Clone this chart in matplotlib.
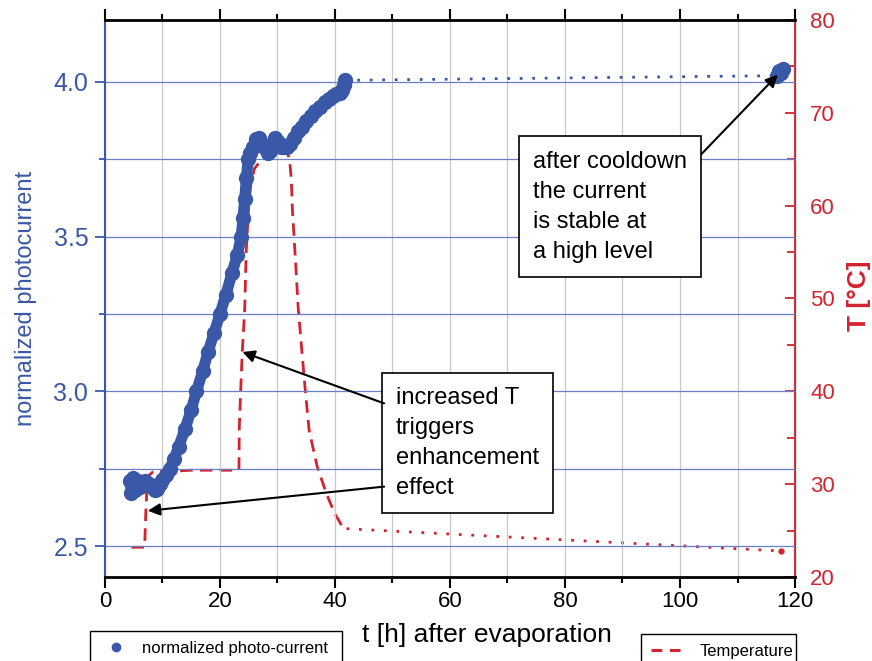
import numpy as np
import matplotlib.pyplot as plt
from matplotlib.ticker import MultipleLocator
from matplotlib.lines import Line2D

plt.rcParams['font.family'] = ['Liberation Sans', 'DejaVu Sans']

blue = '#3a58a8'
red = '#d2232f'

# normalized photo-current, measured part (t in h)
t_pc = [4.4, 4.6, 4.9, 5.2, 5.5, 5.8, 6.1, 6.5, 6.9, 7.3, 7.7, 8.2, 8.7, 9.0,
        9.5, 10.0, 10.6, 11.3, 12.0, 12.8, 13.9, 15.0, 15.9, 17.0, 17.9, 19.0,
        20.0, 21.0, 22.1, 23.0, 23.7, 24.0, 24.3, 24.6, 24.9, 25.3, 25.8, 26.3,
        26.8, 27.3, 27.8, 28.3, 28.7, 29.1, 29.6, 30.1, 30.6, 31.1, 31.6, 32.2,
        32.8, 33.5, 34.2, 35.0, 35.8, 36.6, 37.4, 38.2, 39.0, 39.6, 40.2, 40.8,
        41.2, 41.5, 41.7]
pc = [2.71, 2.67, 2.72, 2.68, 2.70, 2.71, 2.69, 2.70, 2.71, 2.70, 2.70, 2.69,
      2.68, 2.685, 2.70, 2.715, 2.73, 2.75, 2.78, 2.82, 2.877, 2.94, 3.0, 3.065,
      3.126, 3.19, 3.25, 3.31, 3.383, 3.44, 3.5, 3.56, 3.62, 3.69, 3.75, 3.77,
      3.79, 3.815, 3.82, 3.80, 3.785, 3.77, 3.775, 3.80, 3.82, 3.805, 3.79, 3.79,
      3.79, 3.80, 3.82, 3.84, 3.855, 3.875, 3.89, 3.905, 3.92, 3.935, 3.945,
      3.955, 3.96, 3.965, 3.975, 3.99, 4.005]
# no data between ~42 h and ~117 h
t_pc_gap = [41.7, 117.0]
pc_gap = [4.005, 4.02]
t_pc_end = [116.8, 117.2, 117.6, 117.9]
pc_end = [4.02, 4.035, 4.03, 4.04]

# temperature
t_T = [4.6, 6.9, 7.1, 7.4, 8.3, 10, 12, 15, 18, 21, 23.3, 23.35, 23.85, 24.3,
       24.55, 25.0, 25.4, 26.0, 26.9, 28, 30, 31.5, 32.1, 32.4, 32.6, 33.3,
       33.6, 34.7, 35.5, 36.9, 38.5, 39.9, 41.3, 42.0]
T = [23.2, 23.2, 27, 30.8, 31.3, 31.4, 31.4, 31.5, 31.5, 31.5, 31.5, 36, 44,
     48.8, 55, 60, 62.5, 64, 64.7, 65.3, 65.8, 66, 65, 62.8, 59.5, 52.3, 49,
     41, 35.8, 31.9, 29, 26.9, 25.4, 25.2]
t_T_gap = [42.0, 117.6]
T_gap = [25.2, 22.8]

fig = plt.figure(figsize=(8.72, 6.61), dpi=100)
ax = fig.add_axes([0.1204, 0.1271, 0.7913, 0.8427])
ax2 = ax.twinx()
ax.set_zorder(ax2.get_zorder() + 1)
ax.patch.set_visible(False)

ax2.plot(t_T, T, color=red, lw=2.0, dashes=(4.5, 2.6))
ax2.plot(t_T_gap, T_gap, color=red, lw=2.0, ls=(0, (1, 3.5)))
ax2.plot(t_T_gap[-1:], T_gap[-1:], 'o', color=red, ms=3.5)

ax.plot(t_pc_gap, pc_gap, color=blue, lw=2.0, ls=(0, (1, 3.5)))
ax.plot(t_pc, pc, color=blue, lw=8, marker='o', ms=10,
        solid_joinstyle='round', solid_capstyle='round')
ax.plot(t_pc_end, pc_end, color=blue, lw=8, marker='o', ms=10,
        solid_capstyle='round')

ax.set_xlim(0, 120)
ax.set_ylim(2.4, 4.2)
ax2.set_ylim(20, 80)

ax.xaxis.set_major_locator(MultipleLocator(20))
ax.xaxis.set_minor_locator(MultipleLocator(10))
ax.yaxis.set_major_locator(MultipleLocator(0.5))
ax.yaxis.set_minor_locator(MultipleLocator(0.25))
ax.yaxis.set_major_formatter(plt.FormatStrFormatter('%.1f'))
ax2.yaxis.set_major_locator(MultipleLocator(10))
ax2.yaxis.set_minor_locator(MultipleLocator(5))

ax.grid(axis='y', which='both', color='#6a7fc4', lw=0.9)
ax.grid(axis='x', which='both', color='#c8c8c8', lw=0.9)

ax.tick_params(axis='x', which='both', top=True, direction='out', colors='black',
               labelsize=16, pad=2)
ax.tick_params(axis='x', which='major', length=8, width=1.5)
ax.tick_params(axis='x', which='minor', length=4, width=1.5)
ax.tick_params(axis='y', which='both', direction='out', colors=blue,
               labelsize=18, pad=5)
ax.tick_params(axis='y', which='major', length=7, width=1.3)
ax.tick_params(axis='y', which='minor', length=4, width=1.3)
ax2.tick_params(axis='y', which='both', direction='in', colors=red,
                labelsize=16, pad=11)
ax2.tick_params(axis='y', which='major', length=7, width=1.3)
ax2.tick_params(axis='y', which='minor', length=6, width=1.3)

for s in ['top', 'bottom']:
    ax.spines[s].set_color('black')
    ax.spines[s].set_linewidth(2)
ax.spines['left'].set_color(blue)
ax.spines['left'].set_linewidth(1.5)
ax.spines['right'].set_visible(False)
for s in ['top', 'bottom', 'left']:
    ax2.spines[s].set_visible(False)
ax2.spines['right'].set_color(red)
ax2.spines['right'].set_linewidth(1.6)

ax.set_xlabel('t [h] after evaporation', fontsize=19, color='black')
ax.xaxis.set_label_coords(0.554, -0.082)
ax.set_ylabel('normalized photocurrent', fontsize=17, color=blue)
ax.yaxis.set_label_coords(-0.099, 0.5)
ax2.set_ylabel('T [°C]', fontsize=19, color=red, fontweight='bold')
ax2.yaxis.set_label_coords(1.076, 0.505)

# annotation boxes
box = dict(boxstyle='square,pad=0.6', fc='white', ec='black', lw=1.2)
ax.text(74.4, 3.597, 'after cooldown\nthe current\nis stable at\na high level',
        fontsize=17, va='center', ha='left', linespacing=1.47, bbox=box, zorder=5)
ax.text(50.6, 2.834, 'increased T\ntriggers\nenhancement\neffect',
        fontsize=17, va='center', ha='left', linespacing=1.47, bbox=box, zorder=5)

arr = dict(arrowstyle='-|>', color='black', lw=1.5, mutation_scale=18,
           shrinkA=0, shrinkB=0)
ax.annotate('', xy=(117.0, 4.023), xytext=(103.7, 3.766), arrowprops=arr, zorder=6)
ax.annotate('', xy=(23.9, 3.127), xytext=(48.55, 2.961), arrowprops=arr, zorder=6)
ax.annotate('', xy=(7.46, 2.614), xytext=(48.55, 2.692), arrowprops=arr, zorder=6)

# legends below the plot
h1 = Line2D([], [], color=blue, marker='o', ls='none', ms=6)
h2 = Line2D([], [], color=red, lw=2.2, dashes=(3.5, 2.5))
leg1 = fig.legend([h1], ['normalized photo-current'], loc='upper left',
                  bbox_to_anchor=(90 / 872, 0.0, 252 / 872, 1 - 631 / 661),
                  mode='expand', borderaxespad=0, fontsize=12, handlelength=1.9,
                  handletextpad=0.6, borderpad=0.6, fancybox=False,
                  edgecolor='black', framealpha=1)
leg1.get_frame().set_linewidth(1.0)
leg2 = fig.legend([h2], ['Temperature'], loc='upper left',
                  bbox_to_anchor=(641 / 872, 0.0, 155 / 872, 1 - 634 / 661),
                  mode='expand', borderaxespad=0, fontsize=12, handlelength=2.1,
                  handletextpad=0.8, borderpad=0.6, fancybox=False,
                  edgecolor='black', framealpha=1)
leg2.get_frame().set_linewidth(1.0)

plt.savefig('out.png', dpi=100)
